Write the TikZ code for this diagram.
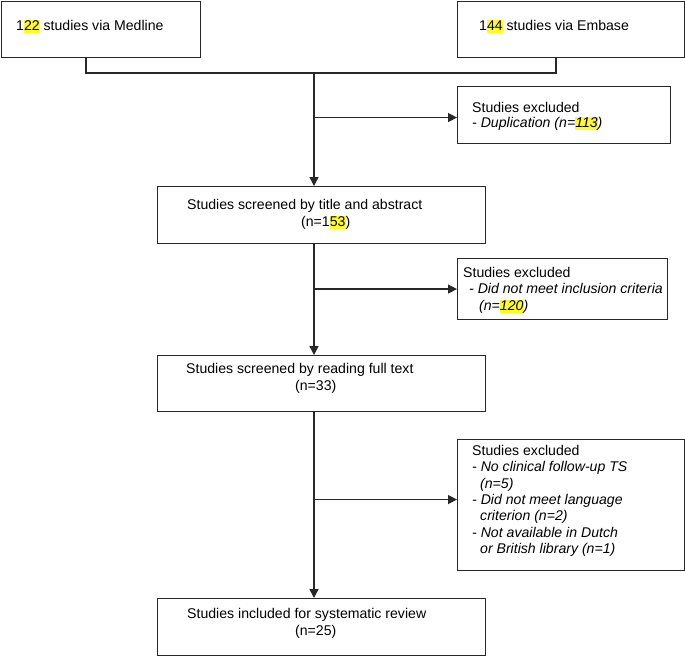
\documentclass[tikz,border=0pt]{standalone}
\usepackage{fontspec}
\setmainfont{Liberation Sans}
\usetikzlibrary{arrows.meta,calc}
\definecolor{hlyellow}{RGB}{255,250,40}
\definecolor{linecol}{RGB}{40,40,40}
\newcommand{\hly}[1]{{\setlength{\fboxsep}{0pt}\colorbox{hlyellow}{\rule[-3pt]{0pt}{13.5pt}#1}}}
\tikzset{
  box/.style={draw=linecol, line width=1.1pt, rectangle, inner sep=0pt, anchor=north west},
  txt/.style={anchor=base west, inner sep=0pt, font=\fontsize{14.1}{16.5}\selectfont},
  conn/.style={draw=linecol, line width=1.4pt},
  arr/.style={conn, -{Triangle[length=9pt,width=9pt]}}
}
\begin{document}
\begin{tikzpicture}[x=1pt,y=-1pt]
\useasboundingbox (0,0) rectangle (685,656);
% boxes
\node[box, minimum width=199pt, minimum height=56pt] (b1) at (1,1) {};
\node[box, minimum width=227pt, minimum height=56pt] (b2) at (457,1) {};
\node[box, minimum width=213pt, minimum height=57pt] (b3) at (457,86) {};
\node[box, minimum width=328pt, minimum height=57pt] (b4) at (157,186) {};
\node[box, minimum width=210pt, minimum height=61pt] (b5) at (457,258) {};
\node[box, minimum width=328pt, minimum height=56pt] (b6) at (157,355) {};
\node[box, minimum width=227pt, minimum height=131pt] (b7) at (457,439) {};
\node[box, minimum width=328pt, minimum height=57pt] (b8) at (157,598) {};
% texts
\node[txt] (t1) at (16,30) {1\hly{22} studies via Medline};
\node[txt] (t2) at (479,30) {1\hly{44} studies via Embase};
\node[txt] (t3a) at (472,112) {Studies excluded};
\node[txt] (t3b) at (472,127) {\itshape - Duplication (n=\hly{113})};
\node[txt] (t4a) at (187,209) {Studies screened by title and abstract};
\node[txt] (t4b) at (301,226) {(n=1\hly{53})};
\node[txt] (t5a) at (463,277) {Studies excluded};
\node[txt] (t5b) at (469,293) {\itshape - Did not meet inclusion criteria};
\node[txt] (t5c) at (479,310) {\itshape (n=\hly{120})};
\node[txt] (t6a) at (186,373) {Studies screened by reading full text};
\node[txt] (t6b) at (295,390) {(n=33)};
\node[txt] (t7a) at (472,455) {Studies excluded};
\node[txt] (t7b) at (472,471.5) {\itshape - No clinical follow-up TS};
\node[txt] (t7c) at (480,488) {\itshape (n=5)};
\node[txt] (t7d) at (472,504) {\itshape - Did not meet language};
\node[txt] (t7e) at (480,520.5) {\itshape criterion (n=2)};
\node[txt] (t7f) at (472,537) {\itshape - Not available in Dutch};
\node[txt] (t7g) at (480,553) {\itshape or British library (n=1)};
\node[txt] (t8a) at (187,618) {Studies included for systematic review};
\node[txt] (t8b) at (295,635) {(n=25)};
% connectors
\coordinate (c1) at (86,73);
\coordinate (c2) at (556,73);
\coordinate (j) at (314,73);
\coordinate (e3) at ([yshift=-2.5pt]b3.west);
\coordinate (e7) at ([yshift=5.5pt]b7.west);
\draw[conn] (c1 |- b1.south) -- (c1) -- (c2) -- (c2 |- b2.south);
\draw[arr] (j) -- (j |- b4.north);
\draw[arr] (j |- e3) -- (e3);
\draw[arr] (b4.south -| j) -- (j |- b6.north);
\draw[arr] (j |- b5.west) -- (b5.west);
\draw[arr] (b6.south -| j) -- (j |- b8.north);
\draw[arr] (j |- e7) -- (e7);
\end{tikzpicture}
\end{document}
